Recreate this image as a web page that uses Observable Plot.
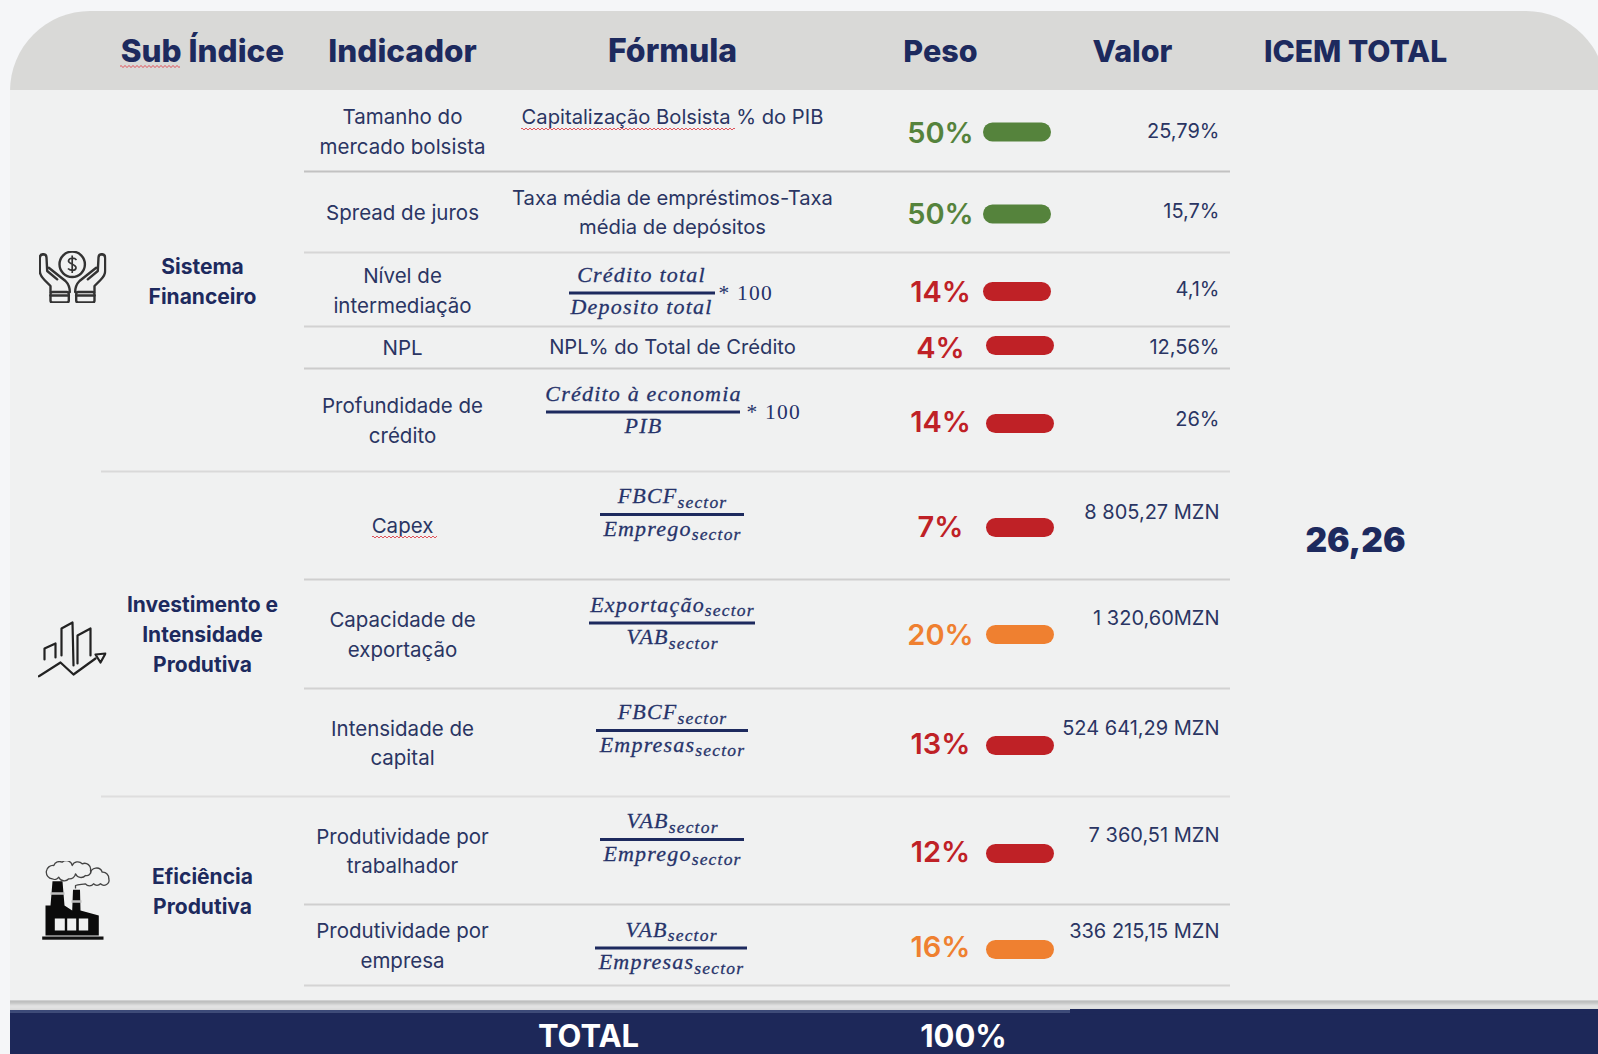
<!DOCTYPE html>
<html lang="pt">
<head>
<meta charset="utf-8">
<title>ICEM</title>
<script src="https://cdn.jsdelivr.net/npm/d3@7"></script>
<script src="https://cdn.jsdelivr.net/npm/@observablehq/plot@0.6"></script>
<style>
  html, body { margin: 0; padding: 0; background: #f5f6f8; }
  #chart { width: 1598px; height: 1054px; overflow: hidden; }
</style>
</head>
<body>
<div id="chart"></div>
<script>
// ---------- DATA ----------
const headers = ["Sub Índice", "Indicador", "Fórmula", "Peso", "Valor", "ICEM TOTAL"];
const groups = ["Sistema\nFinanceiro", "Investimento e\nIntensidade\nProdutiva", "Eficiência\nProdutiva"];
const indicators = [
  "Tamanho do\nmercado bolsista", "Spread de juros", "Nível de\nintermediação", "NPL",
  "Profundidade de\ncrédito", "Capex", "Capacidade de\nexportação", "Intensidade de\ncapital",
  "Produtividade por\ntrabalhador", "Produtividade por\nempresa"
];
const plainFormulas = [
  ["Capitalização Bolsista % do PIB", 0],
  ["Taxa média de empréstimos-Taxa\nmédia de depósitos", 1],
  ["NPL% do Total de Crédito", 3]
];
const fractionRows = [2, 4, 5, 6, 7, 8, 9];
const numerators = ["Crédito total", "Crédito à economia", "FBCF_sector", "Exportação_sector", "FBCF_sector", "VAB_sector", "VAB_sector"];
const denominators = ["Deposito total", "PIB", "Emprego_sector", "VAB_sector", "Empresas_sector", "Emprego_sector", "Empresas_sector"];
const multipliers = ["* 100", "* 100", "", "", "", "", ""];
const weights = [50, 50, 14, 4, 14, 7, 20, 13, 12, 16];
const ratings = ["verde", "verde", "vermelho", "vermelho", "vermelho", "vermelho", "laranja", "vermelho", "vermelho", "laranja"];
const valuesText = ["25,79%", "15,7%", "4,1%", "12,56%", "26%", "8 805,27 MZN", "1 320,60MZN", "524 641,29 MZN", "7 360,51 MZN", "336 215,15 MZN"];
const icemTotal = "26,26";
const totalLabel = "TOTAL";
const totalWeight = "100%";

// ---------- LAYOUT (scales and offsets, not data) ----------
const rowEdges = [11, 90, 171, 252, 326, 368, 471, 579, 688, 796, 904, 985, 1000, 1010, 1054];
const rowMarks = rowEdges.map((_, i) => i - 1);
const groupSpans = [[0, 5], [5, 8], [8, 10]];
const col = {left: 10, rule: 304, groupRule: 101, ruleEnd: 1230, group: 202, ind: 402, form: 672, peso: 940, valorHead: 1132, valorEnd: 1219, icem: 1355, right: 1598, totalX: 588, totalPeso: 963};
const headerX = [col.group, col.ind, col.form, col.peso, col.valorHead, col.icem];
const headerSize = [31.5, 31.5, 32, 30.5, 30.5, 30];
const fracCenter = [642, 643, 672, 672, 672, 672, 671];
const fracHalf = [73, 97, 72, 83, 76, 72, 76];
const fracNumCenter = [641, 643, 672, 672, 672, 672, 671];
const fracBar = [3.5, -8, -11, -11, -12, -11, 3];
const multX = [718, 746];
const valueLift = [1, 0, 0, 0, 0, -13, -15, -14, -15, -13];
const pesoShift = [2.5, 2.5, 3, 1, 3, 2, 2, 2.5, 2.5, 3];
const pillShift = [1, 2, 2, -2, 3.5, 2, 0.5, 3, 3, 4.5];
const pillX = [[983, 1051], [983, 1051], [983, 1051], [986, 1054], [986, 1054], [986, 1054], [986, 1054], [986, 1054], [986, 1054], [986, 1054]];
const lineTones = ["#c2c2c2", "#d6d6d6", "#d2d2d2", "#cccccc", "#d9d9d9", "#cfcfcf", "#d2d2d2", "#dedede", "#cfcfcf", "#d4d4d4"];
const shadowTones = ["#a9a9a9", "#adadad", "#b5b5b5", "#c2c2c2", "#cfcfcf", "#d9d9d9", "#dcdcdc", "#dadada", "#d4d4d4", "#cfcfcf"];
const squiggles = [[120, 180, -1, 15], [521, 735, 0, -2.5], [372, 437, 5, 11]];
const plainShift = {0: -16.5, 1: -2, 3: -3};
const indicatorShift = [-1.5, -2, -1, -2.5, -1.5, -2, -1.5, -1.5, -1.5, -1.5];

const colors = {navy: "#1d2a5e", ink: "#2a3563", math: "#26336a", header: "#d9d9d7", body: "#f0f1f1", band: "#1d2859"};
const sans = "Inter, 'Noto Sans', sans-serif";
const serif = "'Liberation Serif', serif";

// row units <-> pixels: rows have unequal heights
const rowToPixel = d3.scaleLinear().domain(rowMarks).range(rowEdges);
const rowToMark = d3.scaleLinear().domain(rowEdges).range(rowMarks);
const at = (row, px = 0) => row + 0.5 + px / (rowEdges[row + 2] - rowEdges[row + 1]);
const groupMid = s => (rowEdges[s[0] + 1] + rowEdges[s[1] + 1]) / 2;

const box = (x1, x2, y1, y2, fill, extra = {}) =>
  Plot.rect([0], {x1: () => x1, x2: () => x2, y1: () => y1, y2: () => y2, fill, ...extra});

const svgUri = s => "data:image/svg+xml," + encodeURIComponent(s);
const hands = `<svg xmlns="http://www.w3.org/2000/svg" viewBox="0 0 68 52"><defs><g id="h" fill="none" stroke="#333" stroke-width="2.4" stroke-linecap="round" stroke-linejoin="round"><path d="M4.7 3.3C2.500 3.300 1.300 5 1.300 7V20C1.300 24 3 26 6 29L12 35V41"/><path d="M4.7 3.3C7 3.300 8 4.500 8 6.500L8.700 20L18.700 28.300"/><path d="M10.300 16.700L27 30C30 33 31.300 36 31.300 41"/><rect x="12" y="41" width="18.300" height="10.500" rx="2"/><path d="M12 44.500H30.300"/></g></defs><use href="#h"/><use href="#h" transform="translate(68,0) scale(-1,1)"/><circle cx="33.700" cy="13.300" r="12.700" fill="none" stroke="#333" stroke-width="2.400"/><path d="M38 9C36 6.500 30.500 6.500 30 9.800C29.500 13 38 13 37.500 17C37 20 31.500 20 29.500 17.500M33.700 4.500V22" fill="none" stroke="#333" stroke-width="1.700"/></svg>`;
const bars = `<svg xmlns="http://www.w3.org/2000/svg" viewBox="0 0 69 57"><g fill="none" stroke="#222" stroke-width="2.200" stroke-linecap="round" stroke-linejoin="round"><path d="M1 56L23 42L36 54L58 38"/><path d="M58 34L68 33L63 42Z"/><path d="M7 39V28L18 23V37"/><path d="M24 35V8L35 2L36 45"/><path d="M40 43V15L53 8V35"/></g></svg>`;
const factory = `<svg xmlns="http://www.w3.org/2000/svg" viewBox="0 0 70 80"><path d="M4 75V45H9L11 20.700H21L23 45L30.700 50L31.500 29.300H38.500L39 50L57.300 55V75Z" fill="#0b0b0b"/><rect x="0.700" y="76" width="61.300" height="3.200" fill="#111"/><path d="M9 33H23M30 41H40" stroke="#bdbdbd" stroke-width="2.400"/><g fill="#f0f1f1"><rect x="13.300" y="58" width="10" height="12"/><rect x="25.700" y="58" width="9" height="12"/><rect x="37.300" y="58" width="9.400" height="12"/></g><g fill="none" stroke="#444" stroke-width="1.300" stroke-linejoin="round"><path d="M10.700 18.300A5.500 5.500 0 0 1 12.300 5A6 6 0 0 1 20.700 1.700A6 6 0 0 1 30.700 5A6 6 0 0 1 40.700 3.300A6 6 0 0 1 49 10A4 4 0 0 1 44 15A6 6 0 0 1 34 13.300A6 6 0 0 1 27.300 18.300A6 6 0 0 1 17.300 16.700A5 5 0 0 1 10.700 18.300Z"/><path d="M34 28V25C37 24 41 24 44 23.300A5 5 0 0 0 52 23.300A5 5 0 0 0 59 23.300A5 5 0 0 0 67.300 18.300A6 6 0 0 0 60.700 11.700A6 6 0 0 0 49 13.300"/></g></svg>`;
const icons = [
  {src: svgUri(hands), w: 68, h: 52, g: 0, x: 72, shift: -4},
  {src: svgUri(bars), w: 69, h: 57, g: 1, x: 71.5, shift: 15},
  {src: svgUri(factory), w: 70, h: 80, g: 2, x: 76, shift: 9.500}
];

const rowIdx = d3.range(indicators.length);
const fracIdx = d3.range(fractionRows.length);
const lift = (k, px) => at(fractionRows[k], px);

const marks = [
  box(0, 1598, -1, 13, "#f5f6f8"),
  box(col.left, 1606, -1, 1, colors.header, {rx: 80}),
  box(col.left, col.right, 0, 11, colors.body),
  ...shadowTones.map((t, i) => Plot.ruleY([0], {y: () => 11 + (i + 0.5) / 10, x1: col.left, x2: col.right, stroke: t, strokeWidth: 1.2})),
  box(col.left, col.right, 12.05, 13, colors.band),
  box(1070, col.right, 11.9, 12.1, colors.band),
  box(col.left, 1070, 12, 12.06, "#3c4a78"),

  // table rules
  Plot.ruleY(rowIdx, {y: i => i + 1, x1: i => (i === 4 || i === 7) ? col.groupRule : col.rule, x2: col.ruleEnd,
    stroke: i => lineTones[i], strokeWidth: 2}),

  // header
  Plot.text(headers, {x: (d, i) => headerX[i], y: () => -0.5 + 1 / 79,
    text: d => d, fontFamily: sans, fontWeight: 800, fontSize: (d, i) => headerSize[i], fill: colors.navy}),

  // icons + groups
  Plot.image(icons, {x: d => d.x, y: d => rowToMark(groupMid(groupSpans[d.g]) + d.shift),
    src: d => d.src, width: d => d.w, height: d => d.h, preserveAspectRatio: "none"}),
  Plot.text(groups, {x: () => col.group, y: (d, i) => rowToMark(groupMid(groupSpans[i]) - 1.5), text: d => d, fontFamily: sans, fontWeight: 700,
    fontSize: 21, lineHeight: 1.41, fill: colors.navy}),

  // indicators
  Plot.text(indicators, {x: () => col.ind, y: (d, i) => at(i, indicatorShift[i]), text: d => d, fontFamily: sans, fontWeight: 400,
    fontSize: 20.5, lineHeight: 1.45, fill: colors.ink}),

  // plain formulas
  Plot.text(plainFormulas, {x: () => col.form, y: d => at(d[1], plainShift[d[1]]), text: d => d[0], fontFamily: sans,
    fontWeight: 400, fontSize: 20.2, lineHeight: 1.47, fill: colors.ink}),

  // fractions
  Plot.text(fracIdx, {x: k => fracNumCenter[k], y: k => lift(k, fracBar[k] - 18.500), text: k => numerators[k], fontFamily: serif, fontStyle: "italic",
    fontSize: 22, fill: colors.math, stroke: colors.math, strokeWidth: 0.3, className: "formula"}),
  Plot.ruleY(fracIdx, {y: k => lift(k, fracBar[k]), x1: k => fracCenter[k] - fracHalf[k], x2: k => fracCenter[k] + fracHalf[k], stroke: colors.navy, strokeWidth: 2.8}),
  Plot.text(fracIdx, {x: k => fracNumCenter[k], y: k => lift(k, fracBar[k] + 14), text: k => denominators[k], fontFamily: serif, fontStyle: "italic",
    fontSize: 22, fill: colors.math, stroke: colors.math, strokeWidth: 0.3, className: "formula"}),
  Plot.text([0, 1], {x: k => multX[k], y: k => lift(k, fracBar[k]), text: k => multipliers[k], textAnchor: "start", fontFamily: serif,
    fontSize: 21.5, fill: colors.math, className: "formula"}),

  // peso
  Plot.text(rowIdx, {x: () => col.peso, y: i => at(i, pesoShift[i]), text: i => `${weights[i]}%`, fill: i => ratings[i], fontFamily: sans,
    fontWeight: 600, fontSize: 29}),
  Plot.ruleY(rowIdx, {y: i => at(i, pillShift[i]), x1: i => pillX[i][0] + 9.500, x2: i => pillX[i][1] - 9.500, stroke: i => ratings[i],
    strokeWidth: 19, strokeLinecap: "round"}),

  // valor
  Plot.text(valuesText, {x: () => col.valorEnd, y: (d, i) => at(i, valueLift[i]), text: d => d, textAnchor: "end", fontFamily: sans,
    fontSize: 20, fill: colors.ink}),

  // icem total
  Plot.text([icemTotal], {x: () => col.icem, y: () => rowToMark(541), text: d => d, fontFamily: sans, fontWeight: 900, fontSize: 33.5, fill: colors.navy}),

  // total band
  Plot.text([totalLabel], {x: () => col.totalX, y: () => rowToMark(1037), text: d => d, fontFamily: sans, fontWeight: 700, fontSize: 31, fill: "white"}),
  Plot.text([totalWeight], {x: () => col.totalPeso, y: () => rowToMark(1037), text: d => d, fontFamily: sans, fontWeight: 700, fontSize: 31, fill: "white"}),

  // spell-check squiggles
  ...[0, 1].map(n => Plot.ruleY(squiggles, {y: d => d[2] < 0 ? -0.5 + d[3] / 79 : at(d[2], d[3]), x1: d => d[0], x2: d => d[1], stroke: "#e0535b",
    strokeWidth: 1, strokeDasharray: "2,2", strokeDashoffset: n * 2, dy: n}))
];

const plot = Plot.plot({
  width: 1598, height: 1054, margin: 0,
  style: {background: "transparent", overflow: "hidden"},
  x: {domain: [0, 1598], range: [0, 1598], axis: null},
  y: {transform: v => rowToPixel(v), domain: [0, 1054], range: [0, 1054], axis: null},
  color: {domain: ["verde", "vermelho", "laranja"], range: ["#55833c", "#bf2126", "#ef8030"], legend: false},
  marks
});

// Formula typography: subscripts as real tspans, wider math spacing.
d3.select(plot).selectAll(".formula text").each(function () {
  const t = this.textContent;
  this.style.letterSpacing = "1.2px";
  if (t.includes("_")) {
    const [base, sub] = t.split("_");
    const el = d3.select(this).text(null);
    el.append("tspan").text(base);
    el.append("tspan").attr("dy", 4.5).attr("font-size", 17.5).text(sub);
  }
});

document.getElementById("chart").append(plot);
</script>
</body>
</html>
